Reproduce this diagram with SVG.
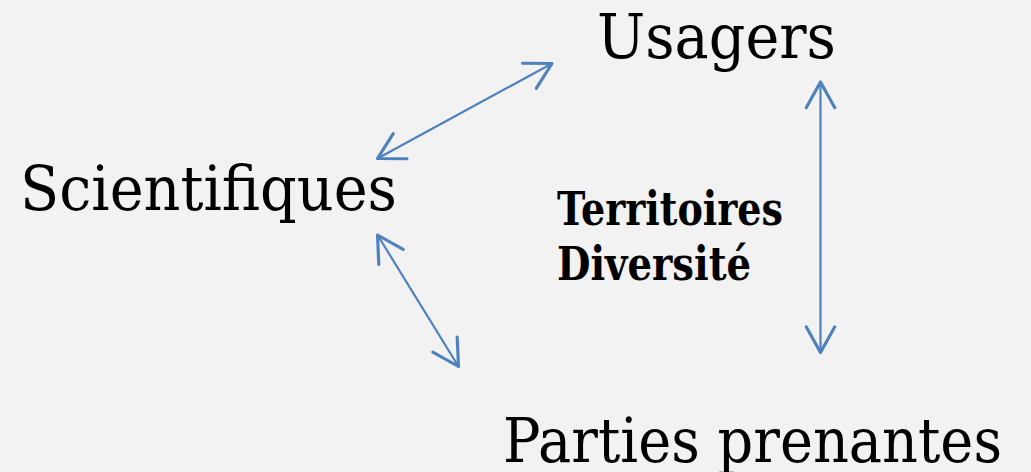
<svg xmlns="http://www.w3.org/2000/svg" width="1031" height="472" viewBox="0 0 1031 472">
  <style>
    .label { font-family: "DejaVu Serif", "Liberation Serif", serif; font-size: 62px; fill: #000; }
    .bold { font-family: "DejaVu Serif", "Liberation Serif", serif; font-size: 47px; font-weight: bold; fill: #000; }
    .link { stroke: #4f81bd; stroke-width: 2.2; fill: none; stroke-linecap: round; }
  </style>
  <defs>
    <marker id="open-arrow" markerUnits="userSpaceOnUse" markerWidth="40" markerHeight="40" refX="0" refY="0" viewBox="-22 -14 26 28" orient="auto-start-reverse" overflow="visible">
      <path d="M-18,-10 L0,0 L-18,10" fill="none" stroke="#4f81bd" stroke-width="2.2" stroke-linecap="round" stroke-linejoin="round"/>
    </marker>
  </defs>
  <rect width="1031" height="472" fill="#f2f2f2"/>

  <g id="connectors">
    <line class="link" x1="377.5" y1="158.5" x2="552" y2="63.5" marker-start="url(#open-arrow)" marker-end="url(#open-arrow)"/>
    <line class="link" x1="377.5" y1="235" x2="458.5" y2="366.5" marker-start="url(#open-arrow)" marker-end="url(#open-arrow)"/>
    <line class="link" x1="820.5" y1="82" x2="820.5" y2="352.5" marker-start="url(#open-arrow)" marker-end="url(#open-arrow)"/>
  </g>

  <g id="node-usagers">
    <text class="label" x="597" y="58" textLength="239" lengthAdjust="spacingAndGlyphs">Usagers</text>
  </g>
  <g id="node-scientifiques">
    <text class="label" x="20" y="210" textLength="377" lengthAdjust="spacingAndGlyphs">Scientifiques</text>
  </g>
  <g id="node-parties-prenantes">
    <text class="label" x="503" y="462" textLength="499" lengthAdjust="spacingAndGlyphs">Parties prenantes</text>
  </g>
  <g id="node-themes">
    <text class="bold" x="557" y="225" textLength="226" lengthAdjust="spacingAndGlyphs">Territoires</text>
    <text class="bold" x="557" y="280" textLength="194" lengthAdjust="spacingAndGlyphs">Diversité</text>
  </g>
</svg>
